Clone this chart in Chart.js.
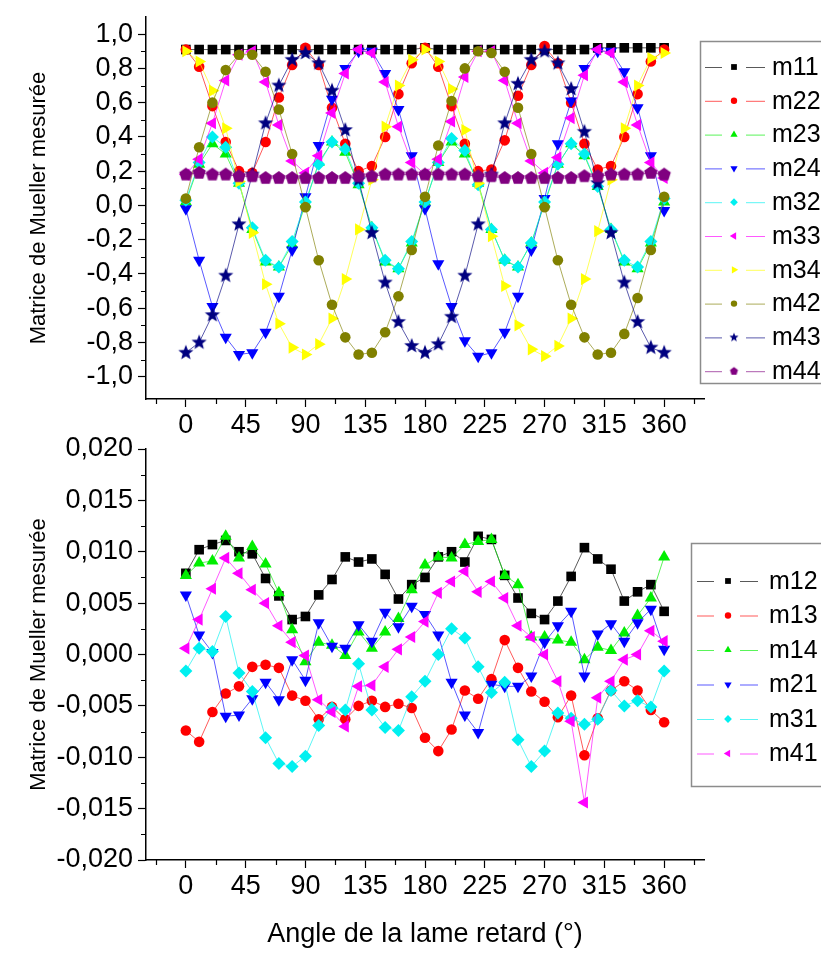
<!DOCTYPE html>
<html>
<head>
<meta charset="utf-8">
<script src="https://cdn.jsdelivr.net/npm/chart.js@4.4.1/dist/chart.umd.min.js"></script>
<style>
  html, body { margin: 0; padding: 0; background: #fff; }
  #wrap { position: relative; width: 821px; height: 953px; overflow: hidden; }
  canvas { position: absolute; left: 0; }
  #topChart { top: 0; }
  #bottomChart { top: 420px; }
</style>
</head>
<body>
<div id="wrap">
  <canvas id="topChart" width="821" height="440"></canvas>
  <canvas id="bottomChart" width="821" height="533"></canvas>
</div>
<script>
// angle of the retarder plate (degrees)
const angles = [0, 10, 20, 30, 40, 50, 60, 70, 80, 90, 100, 110, 120, 130, 140, 150, 160, 170, 180,
  190, 200, 210, 220, 230, 240, 250, 260, 270, 280, 290, 300, 310, 320, 330, 340, 350, 360];

const xTicks = [0, 45, 90, 135, 180, 225, 270, 315, 360];
const yTicksTop = [-1.0, -0.8, -0.6, -0.4, -0.2, 0.0, 0.2, 0.4, 0.6, 0.8, 1.0];
const yTicksBottom = [-0.020, -0.015, -0.010, -0.005, 0.000, 0.005, 0.010, 0.015, 0.020];

// top panel
const m11 = [0.91, 0.91, 0.91, 0.91, 0.91, 0.91, 0.91, 0.91, 0.91, 0.91,
  0.91, 0.91, 0.91, 0.91, 0.91, 0.91, 0.91, 0.91, 0.92, 0.91,
  0.91, 0.91, 0.91, 0.91, 0.91, 0.91, 0.91, 0.91, 0.91, 0.91,
  0.91, 0.92, 0.92, 0.92, 0.92, 0.92, 0.92];
const m22 = [0.91, 0.81, 0.58, 0.37, 0.20, 0.19, 0.37, 0.63, 0.82, 0.92,
  0.82, 0.57, 0.36, 0.20, 0.23, 0.40, 0.65, 0.83, 0.92, 0.81,
  0.58, 0.36, 0.20, 0.21, 0.38, 0.64, 0.82, 0.93, 0.83, 0.60,
  0.36, 0.21, 0.23, 0.40, 0.65, 0.84, 0.91];
const m23 = [0.02, 0.24, 0.36, 0.30, 0.13, -0.14, -0.33, -0.36, -0.23, 0.01,
  0.25, 0.37, 0.31, 0.12, -0.13, -0.33, -0.37, -0.22, 0.02, 0.25,
  0.37, 0.30, 0.13, -0.14, -0.32, -0.36, -0.22, 0.01, 0.24, 0.36,
  0.29, 0.11, -0.14, -0.33, -0.37, -0.22, 0.02];
const m24 = [-0.02, -0.32, -0.59, -0.77, -0.87, -0.86, -0.74, -0.53, -0.26, 0.05,
  0.35, 0.62, 0.80, 0.90, 0.90, 0.77, 0.56, 0.29, -0.02, -0.34,
  -0.59, -0.79, -0.88, -0.86, -0.74, -0.53, -0.26, 0.04, 0.36, 0.61,
  0.80, 0.90, 0.90, 0.78, 0.57, 0.29, -0.03];
const m32 = [0.03, 0.25, 0.40, 0.34, 0.13, -0.13, -0.32, -0.36, -0.21, 0.02,
  0.24, 0.37, 0.33, 0.13, -0.13, -0.32, -0.37, -0.21, 0.02, 0.25,
  0.39, 0.32, 0.12, -0.14, -0.32, -0.36, -0.22, 0.02, 0.24, 0.36,
  0.30, 0.11, -0.14, -0.32, -0.36, -0.21, 0.04];
const m33 = [0.18, 0.27, 0.48, 0.73, 0.88, 0.90, 0.72, 0.47, 0.26, 0.19,
  0.29, 0.54, 0.77, 0.91, 0.89, 0.72, 0.46, 0.25, 0.18, 0.27,
  0.49, 0.75, 0.90, 0.90, 0.73, 0.48, 0.26, 0.19, 0.28, 0.51,
  0.76, 0.91, 0.89, 0.72, 0.47, 0.25, 0.16];
const m34 = [0.90, 0.84, 0.67, 0.45, 0.14, -0.16, -0.46, -0.69, -0.83, -0.87,
  -0.81, -0.66, -0.43, -0.14, 0.15, 0.46, 0.70, 0.85, 0.91, 0.84,
  0.68, 0.44, 0.13, -0.18, -0.47, -0.70, -0.84, -0.88, -0.82, -0.66,
  -0.43, -0.15, 0.15, 0.45, 0.70, 0.86, 0.89];
const m42 = [0.04, 0.34, 0.60, 0.79, 0.88, 0.88, 0.78, 0.56, 0.30, -0.01,
  -0.32, -0.58, -0.77, -0.87, -0.86, -0.74, -0.53, -0.26, 0.05, 0.35,
  0.61, 0.80, 0.90, 0.89, 0.78, 0.57, 0.30, -0.01, -0.32, -0.58,
  -0.77, -0.87, -0.86, -0.75, -0.54, -0.26, 0.05];
const m43 = [-0.86, -0.80, -0.64, -0.41, -0.11, 0.18, 0.48, 0.70, 0.85, 0.89,
  0.83, 0.67, 0.44, 0.15, -0.16, -0.45, -0.68, -0.82, -0.86, -0.81,
  -0.65, -0.41, -0.11, 0.18, 0.48, 0.71, 0.85, 0.90, 0.83, 0.68,
  0.43, 0.13, -0.16, -0.45, -0.68, -0.83, -0.86];
const m44 = [0.18, 0.19, 0.18, 0.18, 0.17, 0.17, 0.16, 0.16, 0.16, 0.16,
  0.16, 0.16, 0.16, 0.17, 0.17, 0.18, 0.18, 0.18, 0.18, 0.18,
  0.18, 0.18, 0.17, 0.17, 0.16, 0.16, 0.16, 0.16, 0.16, 0.16,
  0.17, 0.17, 0.18, 0.18, 0.18, 0.19, 0.18];

// bottom panel
const m12 = [0.0079, 0.0102, 0.0107, 0.0111, 0.0100, 0.0098, 0.0074, 0.0057, 0.0034, 0.0037,
  0.0058, 0.0073, 0.0095, 0.0090, 0.0093, 0.0078, 0.0054, 0.0068, 0.0075, 0.0095,
  0.0100, 0.0090, 0.0115, 0.0112, 0.0077, 0.0055, 0.0040, 0.0034, 0.0052, 0.0076,
  0.0104, 0.0093, 0.0083, 0.0052, 0.0061, 0.0068, 0.0042];
const m13 = [-0.0074, -0.0085, -0.0056, -0.0038, -0.0031, -0.0012, -0.0010, -0.0013, -0.0040, -0.0045,
  -0.0063, -0.0051, -0.0063, -0.0050, -0.0045, -0.0051, -0.0048, -0.0052, -0.0081, -0.0094,
  -0.0073, -0.0035, -0.0043, -0.0024, 0.0014, -0.0013, -0.0036, -0.0046, -0.0061, -0.0040,
  -0.0098, -0.0062, -0.0035, -0.0026, -0.0035, -0.0054, -0.0066];
const m14 = [0.0077, 0.0089, 0.0091, 0.0115, 0.0094, 0.0105, 0.0088, 0.0060, 0.0024, -0.0007,
  0.0012, 0.0009, -0.0001, 0.0022, 0.0006, 0.0022, 0.0035, 0.0063, 0.0087, 0.0095,
  0.0094, 0.0107, 0.0110, 0.0112, 0.0077, 0.0068, 0.0017, 0.0017, 0.0014, 0.0012,
  -0.0005, 0.0007, 0.0004, 0.0021, 0.0038, 0.0055, 0.0095];
const m21 = [0.0058, 0.0019, 0.0002, -0.0060, -0.0059, -0.0043, -0.0027, -0.0044, -0.0005, -0.0025,
  0.0031, 0.0008, 0.0006, 0.0029, 0.0013, 0.0041, 0.0027, 0.0047, 0.0039, 0.0019,
  -0.0027, -0.0059, -0.0076, -0.0029, -0.0031, -0.0031, -0.0021, 0.0012, 0.0028, 0.0042,
  -0.0021, 0.0020, 0.0030, 0.0013, 0.0031, 0.0044, 0.0005];
const m31 = [-0.0016, 0.0006, 0.0003, 0.0037, -0.0018, -0.0036, -0.0081, -0.0106, -0.0109, -0.0099,
  -0.0069, -0.0052, -0.0054, -0.0009, -0.0054, -0.0071, -0.0074, -0.0041, -0.0026, 0.0000,
  0.0025, 0.0016, -0.0012, -0.0037, -0.0027, -0.0083, -0.0109, -0.0094, -0.0057, -0.0062,
  -0.0068, -0.0063, -0.0035, -0.0050, -0.0045, -0.0051, -0.0016];
const m41 = [0.0006, 0.0034, 0.0064, 0.0094, 0.0079, 0.0063, 0.0050, 0.0028, 0.0012, -0.0001,
  -0.0044, -0.0056, -0.0070, -0.0031, -0.0030, -0.0012, 0.0005, 0.0017, 0.0032, 0.0060,
  0.0071, 0.0081, 0.0061, 0.0071, 0.0055, 0.0028, 0.0017, 0.0000, -0.0026, -0.0065,
  -0.0144, -0.0042, -0.0026, -0.0005, 0.0000, 0.0023, 0.0013];

const FONT = '"Liberation Sans", Arial, sans-serif';

// filled star / pentagon symbols (Chart.js only has an asterisk "star")
function polyImage(color, n, outer, inner) {
  const size = Math.ceil(outer * 2) + 2;
  const c = document.createElement('canvas');
  c.width = size; c.height = size;
  const g = c.getContext('2d');
  const cx = size / 2, cy = size / 2;
  const pts = inner ? n * 2 : n;
  g.beginPath();
  for (let i = 0; i < pts; i++) {
    const r = inner && i % 2 ? inner : outer;
    const a = -Math.PI / 2 + i * 2 * Math.PI / pts;
    const px = cx + r * Math.cos(a), py = cy + r * Math.sin(a);
    if (i === 0) g.moveTo(px, py); else g.lineTo(px, py);
  }
  g.closePath();
  g.fillStyle = color;
  g.fill();
  return c;
}

function marker(shape, color, big) {
  const k = big ? 1 : 0.6;
  switch (shape) {
    case 'square': return { pointStyle: 'rect', rotation: 0, radius: 6.8 * k };
    case 'circle': return { pointStyle: 'circle', rotation: 0, radius: 5.3 * k };
    case 'up': return { pointStyle: 'triangle', rotation: 0, radius: 7 * k };
    case 'down': return { pointStyle: 'triangle', rotation: 180, radius: 7 * k };
    case 'left': return { pointStyle: 'triangle', rotation: 270, radius: 7 * k };
    case 'right': return { pointStyle: 'triangle', rotation: 90, radius: 7 * k };
    case 'diamond': return { pointStyle: 'rectRot', rotation: 0, radius: 6.5 * k };
    case 'star': return { pointStyle: polyImage(color, 5, 8 * k, 3.4 * k), rotation: 0, radius: 6 * k };
    case 'pentagon': return { pointStyle: polyImage(color, 5, 7 * k, 0), rotation: 0, radius: 6 * k };
  }
}

function lineColor(hex) {
  const r = parseInt(hex.slice(1, 3), 16), g = parseInt(hex.slice(3, 5), 16), b = parseInt(hex.slice(5, 7), 16);
  return `rgba(${r}, ${g}, ${b}, 0.65)`;
}

function buildDatasets(series) {
  const n = series.length;
  return series.map((s, i) => {
    const m = marker(s.shape, s.color, true);
    return {
      label: s.name,
      data: angles.map((a, k) => ({ x: a, y: s.values[k] })),
      borderColor: lineColor(s.color),
      borderWidth: 1,
      pointBackgroundColor: s.color,
      pointBorderColor: s.color,
      pointBorderWidth: 0,
      pointStyle: m.pointStyle,
      pointRotation: m.rotation,
      pointRadius: m.radius,
      pointHoverRadius: m.radius,
      tension: 0,
      order: n - i,
      legendMarker: marker(s.shape, s.color, false),
      symbolColor: s.color
    };
  });
}

const topSeries = [
  { name: 'm11', values: m11, color: '#000000', shape: 'square' },
  { name: 'm22', values: m22, color: '#ff0000', shape: 'circle' },
  { name: 'm23', values: m23, color: '#00ee00', shape: 'up' },
  { name: 'm24', values: m24, color: '#0000ff', shape: 'down' },
  { name: 'm32', values: m32, color: '#00f0f0', shape: 'diamond' },
  { name: 'm33', values: m33, color: '#ff00ff', shape: 'left' },
  { name: 'm34', values: m34, color: '#ffff00', shape: 'right' },
  { name: 'm42', values: m42, color: '#808000', shape: 'circle' },
  { name: 'm43', values: m43, color: '#000080', shape: 'star' },
  { name: 'm44', values: m44, color: '#800080', shape: 'pentagon' }
];

const bottomSeries = [
  { name: 'm12', values: m12, color: '#000000', shape: 'square' },
  { name: 'm13', values: m13, color: '#ff0000', shape: 'circle' },
  { name: 'm14', values: m14, color: '#00ee00', shape: 'up' },
  { name: 'm21', values: m21, color: '#0000ff', shape: 'down' },
  { name: 'm31', values: m31, color: '#00f0f0', shape: 'diamond' },
  { name: 'm41', values: m41, color: '#ff00ff', shape: 'left' }
];

function midpoints(arr, extend) {
  const step = arr[1] - arr[0];
  const out = [];
  for (let i = 0; i < arr.length - 1; i++) out.push((arr[i] + arr[i + 1]) / 2);
  if (extend) { out.unshift(arr[0] - step / 2); out.push(arr[arr.length - 1] + step / 2); }
  return out;
}

// short minor ticks between the labelled ones
const minorTicks = {
  id: 'minorTicks',
  afterDraw(chart, args, opts) {
    const ctx = chart.ctx;
    const xs = chart.scales.x, ys = chart.scales.y;
    ctx.save();
    ctx.strokeStyle = '#000';
    ctx.lineWidth = 1.2;
    ctx.beginPath();
    opts.x.forEach(v => {
      const px = Math.round(xs.getPixelForValue(v)) + 0.5;
      ctx.moveTo(px, xs.top);
      ctx.lineTo(px, xs.top + 5);
    });
    opts.y.forEach(v => {
      const py = Math.round(ys.getPixelForValue(v)) + 0.5;
      ctx.moveTo(ys.right, py);
      ctx.lineTo(ys.right - 5, py);
    });
    ctx.stroke();
    ctx.restore();
  }
};

// Origin-like boxed legend: line - symbol - line, label
const boxLegend = {
  id: 'boxLegend',
  afterDraw(chart, args, o) {
    const ctx = chart.ctx;
    ctx.save();
    ctx.strokeStyle = '#8c8c8c';
    ctx.lineWidth = 1.5;
    ctx.strokeRect(o.x + 0.5, o.y + 0.5, o.w, o.h);
    chart.data.datasets.forEach((ds, i) => {
      const y = o.y0 + i * o.dy;
      ctx.strokeStyle = ds.borderColor;
      ctx.lineWidth = 1;
      ctx.beginPath();
      ctx.moveTo(o.l1[0], y + 0.5); ctx.lineTo(o.l1[1], y + 0.5);
      ctx.moveTo(o.l2[0], y + 0.5); ctx.lineTo(o.l2[1], y + 0.5);
      ctx.stroke();
      const m = ds.legendMarker;
      ctx.fillStyle = ds.symbolColor;
      ctx.strokeStyle = ds.symbolColor;
      Chart.helpers.drawPoint(ctx, {
        pointStyle: m.pointStyle, rotation: m.rotation, radius: m.radius, borderWidth: 0
      }, o.mx, y);
      ctx.fillStyle = '#000';
      ctx.font = o.font;
      ctx.textAlign = 'left';
      ctx.textBaseline = 'middle';
      ctx.fillText(ds.label, o.tx, y + 1);
    });
    ctx.restore();
  }
};

function axisX(height, showTitle) {
  return {
    type: 'linear',
    min: -30,
    max: 390,
    afterBuildTicks: axis => { axis.ticks = xTicks.map(v => ({ value: v })); },
    afterFit: s => { s.height = height; s.paddingLeft = 0; s.paddingRight = 0; },
    ticks: {
      color: '#000',
      font: { family: FONT, size: 27 },
      padding: 2,
      maxRotation: 0,
      autoSkip: false,
      callback: v => String(v)
    },
    grid: { drawOnChartArea: false, tickLength: 8, color: '#000', tickWidth: 1.2 },
    border: { display: true, color: '#000', width: 1.5 },
    title: {
      display: showTitle,
      text: 'Angle de la lame retard (°)',
      color: '#000',
      font: { family: FONT, size: 27 },
      padding: { top: 0, bottom: 0 }
    }
  };
}

function axisY(min, max, ticks, digits) {
  return {
    type: 'linear',
    min: min,
    max: max,
    afterBuildTicks: axis => { axis.ticks = ticks.map(v => ({ value: v })); },
    afterFit: s => { s.width = 120; s.paddingTop = 0; s.paddingBottom = 0; },
    ticks: {
      color: '#000',
      font: { family: FONT, size: 27 },
      padding: 5,
      autoSkip: false,
      callback: v => v.toFixed(digits).replace('.', ',')
    },
    grid: { drawOnChartArea: false, tickLength: 8, color: '#000', tickWidth: 1.2 },
    border: { display: true, color: '#000', width: 1.5 },
    title: {
      display: true,
      text: 'Matrice de Mueller mesurée',
      color: '#000',
      font: { family: FONT, size: 22 },
      padding: { top: 0, bottom: 0 }
    }
  };
}

const commonOpts = {
  responsive: false,
  animation: false,
  events: [],
  plugins: { legend: { display: false }, tooltip: { enabled: false } }
};

const topChart = new Chart(document.getElementById('topChart').getContext('2d'), {
  type: 'line',
  data: { datasets: buildDatasets(topSeries) },
  options: {
    ...commonOpts,
    layout: { autoPadding: false, padding: { left: 26, right: 117, top: 17, bottom: 0 } },
    scales: {
      x: axisX(41, false),
      y: axisY(-1.13, 1.1, yTicksTop, 1)
    },
    plugins: {
      ...commonOpts.plugins,
      minorTicks: { x: midpoints(xTicks, true), y: midpoints(yTicksTop, false) },
      boxLegend: {
        x: 700, y: 41, w: 140, h: 342,
        y0: 67, dy: 33.8,
        l1: [705, 722], l2: [746, 765], mx: 734, tx: 772,
        font: '25px ' + FONT
      }
    }
  },
  plugins: [minorTicks, boxLegend]
});

// bottom canvas starts at 420 px and is transparent, so it may overlap the top one
const bottomChart = new Chart(document.getElementById('bottomChart').getContext('2d'), {
  type: 'line',
  data: { datasets: buildDatasets(bottomSeries) },
  options: {
    ...commonOpts,
    layout: { autoPadding: false, padding: { left: 26, right: 117, top: 29, bottom: 2 } },
    scales: {
      x: axisX(91, true),
      y: axisY(-0.02, 0.02, yTicksBottom, 3)
    },
    plugins: {
      ...commonOpts.plugins,
      minorTicks: { x: midpoints(xTicks, true), y: midpoints(yTicksBottom, false) },
      boxLegend: {
        x: 691, y: 123, w: 150, h: 243,
        y0: 161, dy: 34.5,
        l1: [697, 714], l2: [740, 758], mx: 728, tx: 769,
        font: '25px ' + FONT
      }
    }
  },
  plugins: [minorTicks, boxLegend]
});
</script>
</body>
</html>
